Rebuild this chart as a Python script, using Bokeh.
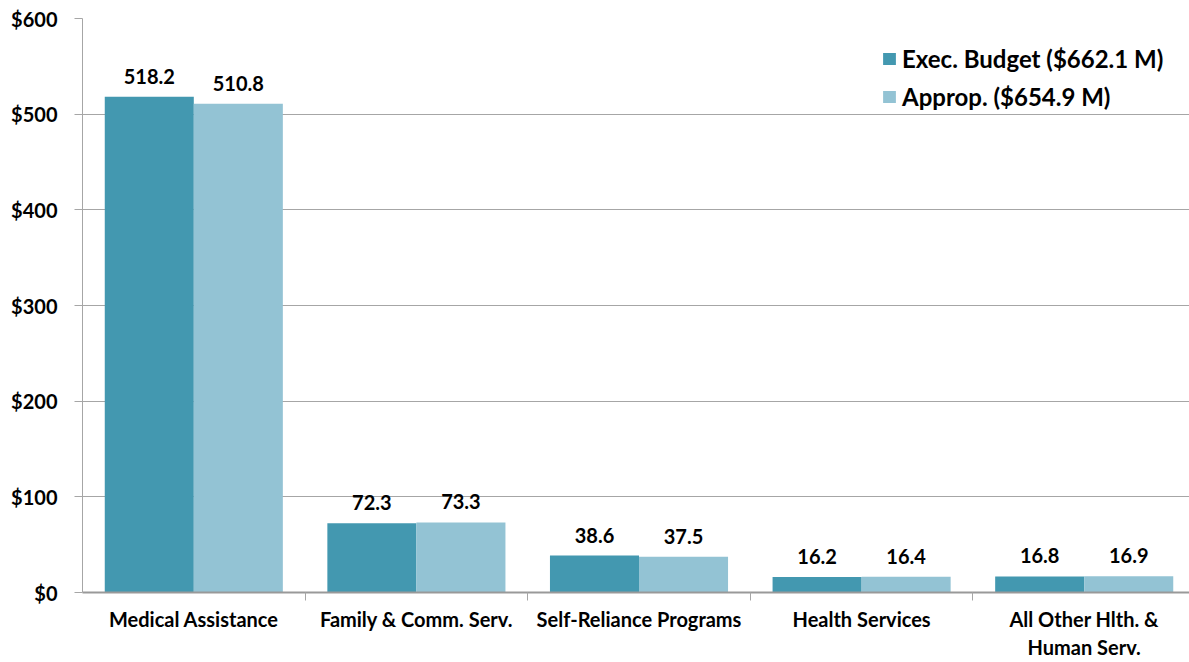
from bokeh.plotting import figure
from bokeh.models import ColumnDataSource, FixedTicker, Range1d
from bokeh.transform import dodge
from bokeh.core.properties import value
from bokeh.embed import file_html
from bokeh.resources import INLINE

categories = ["Medical Assistance", "Family & Comm. Serv.", "Self-Reliance Programs",
              "Health Services", "All Other Hlth. &\nHuman Serv."]
exec_vals = [518.2, 72.3, 38.6, 16.2, 16.8]
approp_vals = [510.8, 73.3, 37.5, 16.4, 16.9]
series_names = ["Exec. Budget ($662.1 M)", "Approp. ($654.9 M)"]
y_ticks = [0, 100, 200, 300, 400, 500, 600]

FONT = "Lato"
DARK = "#4398B0"
LIGHT = "#93C3D4"
GRID = "#A6A6A6"

idx = list(range(len(categories)))
src = ColumnDataSource(dict(
    x=idx,
    e=exec_vals,
    a=approp_vals,
    el=["%.1f" % v for v in exec_vals],
    al=["%.1f" % v for v in approp_vals],
))

p = figure(width=1189, height=662, output_backend="svg", toolbar_location=None,
           x_range=Range1d(-0.5, 4.473), y_range=Range1d(0, 600),
           min_border_left=82, min_border_right=0, min_border_top=18, min_border_bottom=70)
p.outline_line_color = None
p.background_fill_color = "white"

p.vbar(x=dodge("x", -0.2, range=p.x_range), top="e", width=0.4, bottom=0,
       source=src, fill_color=DARK, line_color=None, legend_label=series_names[0])
p.vbar(x=dodge("x", 0.2, range=p.x_range), top="a", width=0.4, bottom=0,
       source=src, fill_color=LIGHT, line_color=None, legend_label=series_names[1])

for off, col, lab in [(-0.2, "e", "el"), (0.2, "a", "al")]:
    p.text(x=dodge("x", off, range=p.x_range), y=col, text=lab, source=src,
           text_align="center", text_baseline="bottom", y_offset=-13,
           text_font=value(FONT), text_font_style="bold", text_font_size="20px",
           text_color="black")

# y axis
p.yaxis.ticker = FixedTicker(ticks=y_ticks)
p.yaxis.major_label_overrides = {t: "$%d" % t for t in y_ticks}
p.yaxis.major_label_text_font = FONT
p.yaxis.major_label_text_font_style = "bold"
p.yaxis.major_label_text_font_size = "20px"
p.yaxis.major_label_text_color = "black"
p.yaxis.axis_line_color = GRID
p.yaxis.major_tick_line_color = GRID
p.yaxis.major_tick_out = 8
p.yaxis.major_tick_in = 0
p.yaxis.minor_tick_line_color = None
p.yaxis.major_label_standoff = 17

# x axis: labels at category centres, separator ticks at boundaries
p.xaxis.ticker = FixedTicker(ticks=idx, minor_ticks=[i + 0.5 for i in idx[:-1]])
p.xaxis.major_label_overrides = {i: c for i, c in zip(idx, categories)}
p.xaxis.major_label_text_font = FONT
p.xaxis.major_label_text_font_style = "bold"
p.xaxis.major_label_text_font_size = "20px"
p.xaxis.major_label_text_color = "black"
p.xaxis.axis_line_color = "#999999"
p.xaxis.axis_line_width = 2
p.xaxis.major_tick_line_color = None
p.xaxis.minor_tick_line_color = GRID
p.xaxis.minor_tick_out = 8
p.xaxis.minor_tick_in = 0
p.xaxis.major_label_standoff = 6

p.xgrid.grid_line_color = None
p.ygrid.ticker = FixedTicker(ticks=y_ticks[1:])
p.ygrid.grid_line_color = GRID
p.ygrid.grid_line_width = 1

lg = p.legend[0]
lg.location = (799, 481)
lg.padding = 0
lg.margin = 0
lg.spacing = 9
lg.glyph_width = 16
lg.glyph_height = 15
lg.label_height = 28
lg.label_standoff = 5
lg.label_text_font = FONT
lg.label_text_font_style = "bold"
lg.label_text_font_size = "24px"
lg.label_text_color = "black"
lg.border_line_color = None
lg.background_fill_alpha = 0

open("out.html", "w").write(file_html(p, INLINE))
